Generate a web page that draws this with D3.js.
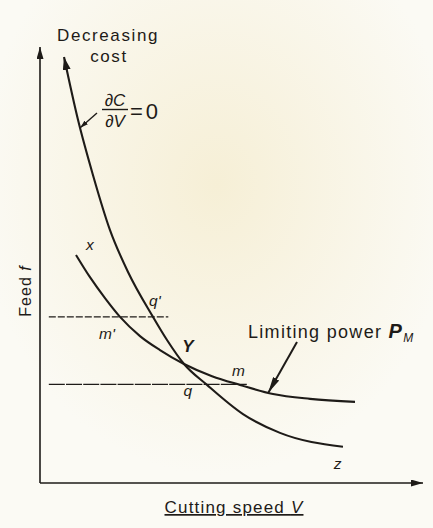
<!DOCTYPE html>
<html><head><meta charset="utf-8">
<script src="https://cdn.jsdelivr.net/npm/d3@7"></script>
<style>
html,body{margin:0;padding:0;background:#fbfaf4;}
svg{display:block;font-family:"Liberation Sans","DejaVu Sans",sans-serif;}
</style></head>
<body>
<svg id="chart" width="433" height="528"></svg>
<script>
// Cutting speed V (arbitrary units) and feed f (arbitrary units)
const costV = [6.27, 9.92, 13.84, 18.28, 22.98, 29.50, 33.16, 37.60, 43.60, 53.00, 62.66, 79.11];
const costF = [97.7, 83.3, 70.6, 58.0, 48.4, 38.1, 32.8, 27.3, 22.5, 15.8, 11.5, 8.3];
const powerV = [9.40, 13.05, 16.97, 20.89, 26.11, 31.33, 37.60, 44.91, 52.22, 60.84, 70.50, 82.25];
const powerF = [52.3, 47.2, 42.4, 38.1, 33.7, 30.5, 27.3, 24.5, 22.5, 20.4, 19.3, 18.6];
const feedLevels = [38.1, 22.6];          // upper (q', m') and lower (q, m) feed lines
const feedLineEnds = [33.5, 54.0];        // V where each horizontal line stops
const feedLineStart = 2.3;
const pointLabels = [
  {t:"x", v:13.0, f:53.5}, {t:"q'", v:30.0, f:40.5}, {t:"m'", v:17.5, f:33.0},
  {t:"Y", v:38.6, f:30.0}, {t:"q", v:38.6, f:20.0}, {t:"m", v:51.8, f:24.5},
  {t:"z", v:77.7, f:3.3}
];

const svg = d3.select("#chart");
const x = d3.scaleLinear().domain([0, 100]).range([40, 423]);
const y = d3.scaleLinear().domain([0, 100]).range([483, 47]);
const ink = "#1e1b18";

// faint background glow (scan watermark)
const defs = svg.append("defs");
const rg = defs.append("radialGradient").attr("id","glow").attr("cx","50%").attr("cy","35%").attr("r","55%");
rg.append("stop").attr("offset","0%").attr("stop-color","#f6efd6");
rg.append("stop").attr("offset","100%").attr("stop-color","#fbfaf4");
svg.append("rect").attr("width",433).attr("height",528).attr("fill","url(#glow)");

function marker(id, w, h){
  defs.append("marker").attr("id", id).attr("viewBox", `0 0 ${w} ${h}`)
    .attr("refX", w).attr("refY", h/2).attr("markerWidth", w).attr("markerHeight", h)
    .attr("markerUnits","userSpaceOnUse").attr("orient","auto-start-reverse")
    .append("path").attr("d", `M0,0L${w},${h/2}L0,${h}Z`).attr("fill", ink);
}
marker("arrAxis", 12, 7);
marker("arrCurve", 13, 8);
marker("arrLabel", 16, 7);
marker("arrSmall", 8, 5);

// axes
svg.append("line").attr("x1", x(0)).attr("y1", y(0)).attr("x2", x(0)).attr("y2", y(100))
  .attr("stroke", ink).attr("stroke-width", 1.6).attr("marker-end","url(#arrAxis)");
svg.append("line").attr("x1", x(0)).attr("y1", y(0)).attr("x2", x(100)).attr("y2", y(0))
  .attr("stroke", ink).attr("stroke-width", 1.6).attr("marker-end","url(#arrAxis)");

// horizontal feed lines
feedLevels.forEach((fv, i) => {
  svg.append("line").attr("x1", x(feedLineStart)).attr("x2", x(feedLineEnds[i]))
    .attr("y1", y(fv)).attr("y2", y(fv)).attr("stroke", ink).attr("stroke-width", 1.2)
    .attr("stroke-dasharray", i === 0 ? "7,2" : "16,1.2");
});

const line = d3.line().x(d => x(d[0])).y(d => y(d[1])).curve(d3.curveMonotoneX);
svg.append("path").datum(costV.map((v,i)=>[v,costF[i]])).attr("d", line)
  .attr("fill","none").attr("stroke", ink).attr("stroke-width", 2.1)
  .attr("marker-start","url(#arrCurve)");
svg.append("path").datum(powerV.map((v,i)=>[v,powerF[i]])).attr("d", line)
  .attr("fill","none").attr("stroke", ink).attr("stroke-width", 2.1);

// point labels
pointLabels.forEach(p => {
  svg.append("text").attr("x", x(p.v)).attr("y", y(p.f)).attr("text-anchor","middle")
    .attr("font-size", p.t === "Y" ? 17 : 15.5).attr("font-style","italic")
    .attr("font-weight", p.t === "Y" ? "bold" : "normal").attr("fill", ink).text(p.t);
});

// titles
svg.append("text").attr("x", 108).attr("y", 41).attr("text-anchor","middle")
  .attr("font-size", 17).attr("letter-spacing", 1.6).attr("fill", ink).text("Decreasing");
svg.append("text").attr("x", 109).attr("y", 62).attr("text-anchor","middle")
  .attr("font-size", 17).attr("letter-spacing", 1.6).attr("fill", ink).text("cost");

// dC/dV = 0
svg.append("text").attr("x", 115).attr("y", 106).attr("text-anchor","middle")
  .attr("font-size", 17).attr("font-style","italic").attr("fill", ink).text("∂C");
svg.append("line").attr("x1", 102).attr("x2", 128).attr("y1", 109.5).attr("y2", 109.5)
  .attr("stroke", ink).attr("stroke-width", 1.4);
svg.append("text").attr("x", 115).attr("y", 127).attr("text-anchor","middle")
  .attr("font-size", 17).attr("font-style","italic").attr("fill", ink).text("∂V");
svg.append("text").attr("x", 130).attr("y", 119).attr("font-size", 22).attr("letter-spacing", 3).attr("fill", ink).text("=0");
svg.append("line").attr("x1", 97).attr("y1", 113).attr("x2", x(10.5)).attr("y2", y(81.5))
  .attr("stroke", ink).attr("stroke-width", 1.4).attr("marker-end","url(#arrSmall)");

// Feed f
svg.append("text").attr("transform","translate(31,291) rotate(-90)").attr("text-anchor","middle")
  .attr("font-size", 16).attr("letter-spacing", 1).attr("fill", ink)
  .text("Feed ").append("tspan").attr("font-style","italic").text("f");

// Cutting speed V
const xl = svg.append("text").attr("x", 234).attr("y", 513).attr("text-anchor","middle")
  .attr("font-size", 17).attr("letter-spacing", 1.2).attr("fill", ink).attr("text-decoration","underline");
xl.append("tspan").text("Cutting speed ");
xl.append("tspan").attr("font-style","italic").text("V");

// Limiting power P_M
const lp = svg.append("text").attr("x", 248).attr("y", 338).attr("font-size", 18).attr("letter-spacing", 1.3).attr("fill", ink);
lp.append("tspan").text("Limiting power ");
lp.append("tspan").attr("font-style","italic").attr("font-weight","bold").attr("font-size", 20).text("P");
lp.append("tspan").attr("font-style","italic").attr("font-size", 12).attr("dy", 4).text("M");
svg.append("line").attr("x1", 297).attr("y1", 342).attr("x2", x(59.6)).attr("y2", y(20.7))
  .attr("stroke", ink).attr("stroke-width", 2).attr("marker-end","url(#arrLabel)");
</script>
</body></html>
